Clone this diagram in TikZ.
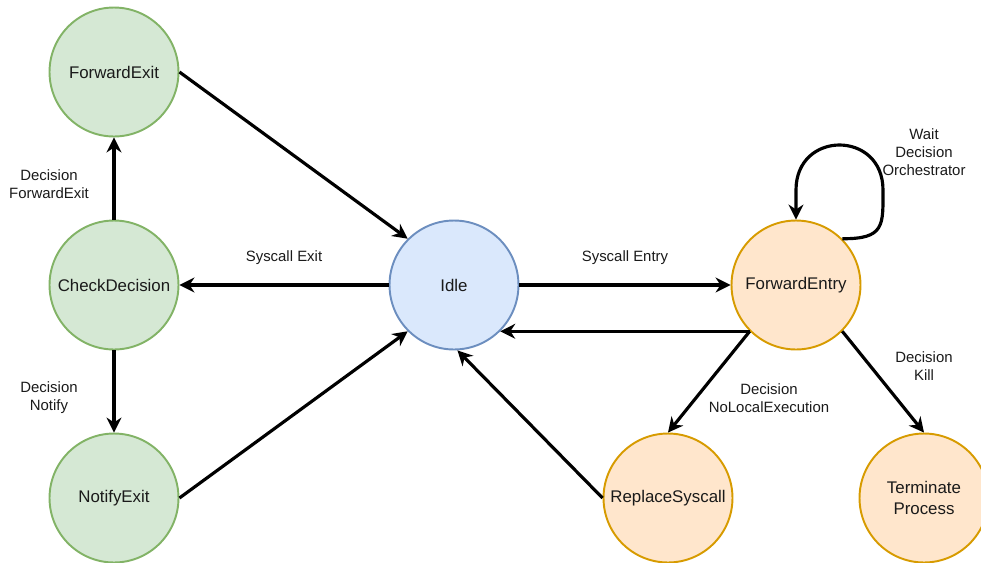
\documentclass[tikz,border=0pt]{standalone}
\usepackage{fontspec}
\setmainfont{Liberation Sans}
\usetikzlibrary{arrows.meta,positioning}
\definecolor{grnfill}{HTML}{D5E8D4}\definecolor{grnline}{HTML}{82B366}
\definecolor{blufill}{HTML}{DAE8FC}\definecolor{bluline}{HTML}{6C8EBF}
\definecolor{orgfill}{HTML}{FFE6CC}\definecolor{orgline}{HTML}{D79B00}
\definecolor{txt}{HTML}{1A1A1A}
\begin{document}
\begin{tikzpicture}[x=0.02cm, y=-0.02cm,
  st/.style={circle, draw=#1line, fill=#1fill, line width=1.1pt, minimum size=2.58cm, inner sep=0pt, text=txt, align=center, font=\fontsize{9.6}{12}\selectfont},
  lbl/.style={text=txt, align=center, font=\fontsize{8.5}{10.2}\selectfont},
  conn/.style={-{Stealth[length=8.5pt, width=8.5pt]}, line width=1.8pt}]
\useasboundingbox (0,0) rectangle (981,562);
\node[st=blu] (idle) at (454,285) {Idle};
\node[st=grn] (cd) at (114,285) {CheckDecision};
\node[st=grn] (fe) at (114,72) {ForwardExit}; \node[st=grn] (ne) at (114,498) {NotifyExit};
\node[st=org] (fen) at (796,285) {ForwardEntry};
\node[st=org] (rs) at (668,498) {ReplaceSyscall}; \node[st=org] (tp) at (924,498) {Terminate\\Process};
\foreach \a/\b in {fe.east/idle.north west, idle.west/cd.east, cd.north/fe.south, cd.south/ne.north, ne.east/idle.south west, idle.east/fen.west, fen.south west/idle.south east, fen.south west/rs.north, fen.south east/tp.north, rs.west/idle.-87} \draw[conn] (\a) -- (\b);
\draw[conn] (fen.north east) .. controls (885,239) and (883,225) .. (883,190) .. controls (883,130) and (796,130) .. (796,190) -- (fen.north);
\foreach \p/\t in {(284,258)/{Syscall Exit}, (625,258)/{Syscall Entry}, (49,184)/{Decision\\ForwardExit}, (49,398)/{Decision\\Notify}, (769,398)/{Decision\\NoLocalExecution}, (924,366)/{Decision\\Kill}, (924,152)/{Wait\\Decision\\Orchestrator}} \node[lbl] at \p {\t};
\end{tikzpicture}
\end{document}
